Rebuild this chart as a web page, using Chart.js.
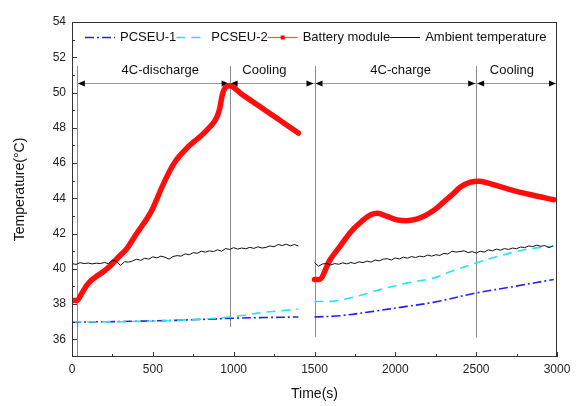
<!DOCTYPE html>
<html>
<head>
<meta charset="utf-8">
<script src="https://cdn.jsdelivr.net/npm/chart.js@4.4.0/dist/chart.umd.min.js"></script>
<style>
html, body { margin: 0; padding: 0; background: #fff; }
</style>
</head>
<body>
<canvas id="chartCanvas" width="577" height="406"></canvas>
<script>
// ---- data ----
const seriesNames = ["PCSEU-1", "PCSEU-2", "Battery module", "Ambient temperature"];

// 4C-discharge + cooling (0 - 1400 s)
const pcseu1TimeA = [0, 200, 400, 600, 800, 1000, 1200, 1400];
const pcseu1TempA = [36.98, 37.0, 37.03, 37.07, 37.13, 37.2, 37.24, 37.27];
const pcseu2TimeA = [0, 300, 600, 800, 980, 1100, 1200, 1300, 1400];
const pcseu2TempA = [37.0, 37.0, 37.07, 37.15, 37.27, 37.42, 37.55, 37.63, 37.72];
const batteryTimeA = [0, 30, 60, 90, 120, 150, 180, 210, 240, 270, 300, 335, 365, 400, 430, 460, 490, 520, 550, 580, 610, 640, 670, 700, 730, 760, 795, 825, 855, 880, 900, 915, 928, 940, 955, 975, 1050, 1150, 1250, 1400];
const batteryTempA = [38.2, 38.2, 38.6, 39.05, 39.35, 39.57, 39.75, 39.95, 40.2, 40.5, 40.78, 41.1, 41.5, 42.0, 42.4, 42.8, 43.25, 43.85, 44.5, 45.1, 45.65, 46.1, 46.45, 46.75, 47.02, 47.26, 47.52, 47.78, 48.07, 48.35, 48.7, 49.15, 49.8, 50.15, 50.33, 50.38, 49.9, 49.28, 48.65, 47.7];
const ambientTempA = [40.30, 40.25, 40.35, 40.30, 40.33, 40.28, 40.32, 40.30, 40.36, 40.30, 40.50, 40.42, 40.20, 40.40, 40.38, 40.45, 40.55, 40.48, 40.60, 40.55, 40.68, 40.62, 40.72, 40.66, 40.55, 40.70, 40.75, 40.72, 40.85, 40.80, 40.92, 40.88, 41.00, 40.95, 41.02, 40.98, 41.08, 41.00, 41.15, 41.10, 41.20, 41.12, 41.18, 41.14, 41.22, 41.16, 41.25, 41.18, 41.22, 41.30, 41.25, 41.38, 41.32, 41.40, 41.30, 41.38, 41.30];

// 4C-charge + cooling (1500 - 2980 s)
const pcseu1TimeB = [1500, 1657, 1864, 2070, 2236, 2500, 2735, 2980];
const pcseu1TempB = [37.27, 37.34, 37.59, 37.87, 38.1, 38.63, 39.0, 39.4];
const pcseu2TimeB = [1500, 1620, 1760, 1905, 2070, 2236, 2343, 2500, 2632, 2797, 2980];
const pcseu2TempB = [38.15, 38.17, 38.44, 38.82, 39.19, 39.48, 39.85, 40.33, 40.7, 41.08, 41.3];
const batteryTimeB = [1500, 1530, 1595, 1660, 1720, 1780, 1845, 1890, 1950, 2010, 2070, 2130, 2190, 2250, 2300, 2345, 2405, 2465, 2520, 2590, 2715, 2840, 2980];
const batteryTempB = [39.4, 39.4, 40.5, 41.3, 42.05, 42.6, 43.05, 43.15, 42.97, 42.78, 42.73, 42.82, 43.05, 43.4, 43.8, 44.15, 44.65, 44.92, 44.97, 44.82, 44.48, 44.2, 43.92];
const ambientTempB = [40.35, 40.15, 40.28, 40.30, 40.22, 40.30, 40.26, 40.34, 40.28, 40.36, 40.30, 40.40, 40.35, 40.44, 40.38, 40.50, 40.45, 40.55, 40.58, 40.50, 40.62, 40.56, 40.66, 40.60, 40.70, 40.64, 40.72, 40.68, 40.78, 40.72, 40.80, 40.76, 40.88, 40.84, 41.00, 40.95, 40.98, 41.02, 40.92, 40.98, 40.90, 41.00, 40.95, 41.08, 41.02, 41.12, 41.06, 41.15, 41.10, 41.18, 41.14, 41.24, 41.20, 41.30, 41.26, 41.34, 41.28, 41.32, 41.20, 41.30];
const ambientStartA = 0, ambientStartB = 1500, ambientStep = 25;

// phases
const phaseBounds = [30, 975, 1500, 2500, 3000];
const phaseLineBottom = [35, 36.7, 36.15, 36.1];
const phaseLabels = ["4C-discharge", "Cooling", "4C-charge", "Cooling"];
const phaseLabelTimes = [546, 1190, 2033, 2721];

const xTicks = [0, 500, 1000, 1500, 2000, 2500, 3000];
const yTicks = [36, 38, 40, 42, 44, 46, 48, 50, 52, 54];

// ---- helpers ----
function pts(times, temps) {
    return times.map((t, i) => ({ x: t, y: temps[i] }));
}
function stepPts(start, temps) {
    return temps.map((v, i) => ({ x: start + i * ambientStep, y: v }));
}
function joined(a, b) {
    return a.concat([{ x: 1450, y: null }], b);
}

const FONT = "'Liberation Sans', Arial, sans-serif";

const styles = [
    { color: "#2323f0", width: 1.6, dash: [9, 3, 2, 3] },
    { color: "#25e3f2", width: 1.6, dash: [9, 6] },
    { color: "#ff0d0d", width: 5.5, dash: [] },
    { color: "#111111", width: 1, dash: [] }
];

const frameTicks = {
    id: "frameTicks",
    afterDraw(chart) {
        const { ctx, chartArea: a, scales: { x, y } } = chart;
        ctx.save();
        ctx.strokeStyle = "#333";
        ctx.lineWidth = 1;
        ctx.strokeRect(a.left + 0.5, a.top + 0.5, a.right - a.left - 1, a.bottom - a.top - 1);
        ctx.beginPath();
        for (let t = 0; t <= 3000; t += 250) {
            const px = Math.round(x.getPixelForValue(t)) + 0.5;
            const len = t % 500 === 0 ? 5 : 3;
            ctx.moveTo(px, a.bottom);
            ctx.lineTo(px, a.bottom - len);
        }
        for (let v = 36; v <= 54; v++) {
            const py = Math.round(y.getPixelForValue(v)) + 0.5;
            const len = v % 2 === 0 ? 5 : 3;
            ctx.moveTo(a.left, py);
            ctx.lineTo(a.left + len, py);
        }
        ctx.stroke();
        ctx.restore();
    }
};

const phases = {
    id: "phases",
    beforeDatasetsDraw(chart) {
        const { ctx, chartArea: a, scales: { x, y } } = chart;
        ctx.save();
        ctx.lineWidth = 1;
        ctx.strokeStyle = "#8a8a8a";
        const top = y.getPixelForValue(51.5);
        for (let i = 0; i < phaseBounds.length - 1; i++) {
            const px = Math.round(x.getPixelForValue(phaseBounds[i])) + 0.5;
            ctx.beginPath();
            ctx.moveTo(px, top);
            ctx.lineTo(px, y.getPixelForValue(phaseLineBottom[i]));
            ctx.stroke();
        }
        const ay = Math.round(y.getPixelForValue(50.55)) + 0.5;
        ctx.strokeStyle = "#9a9a9a";
        ctx.beginPath();
        ctx.moveTo(x.getPixelForValue(phaseBounds[0]), ay);
        ctx.lineTo(a.right, ay);
        ctx.stroke();

        ctx.fillStyle = "#000";
        for (let i = 0; i < phaseBounds.length - 1; i++) {
            const s = x.getPixelForValue(phaseBounds[i]) + 1;
            const e = Math.min(x.getPixelForValue(phaseBounds[i + 1]), a.right) - 1;
            ctx.beginPath();
            ctx.moveTo(s, ay); ctx.lineTo(s + 7, ay - 3); ctx.lineTo(s + 7, ay + 3); ctx.closePath();
            ctx.moveTo(e, ay); ctx.lineTo(e - 7, ay - 3); ctx.lineTo(e - 7, ay + 3); ctx.closePath();
            ctx.fill();
        }
        ctx.font = "13px " + FONT;
        ctx.fillStyle = "#111";
        ctx.textAlign = "center";
        ctx.textBaseline = "middle";
        phaseLabels.forEach((lab, i) => {
            ctx.fillText(lab, x.getPixelForValue(phaseLabelTimes[i]), ay - 13);
        });
        ctx.restore();
    }
};

const insideLegend = {
    id: "insideLegend",
    afterDatasetsDraw(chart) {
        const { ctx, chartArea: a } = chart;
        ctx.save();
        ctx.font = "13px " + FONT;
        ctx.textBaseline = "middle";
        ctx.textAlign = "left";
        const ly = a.top + 15.5;
        let lx = a.left + 13;
        seriesNames.forEach((name, i) => {
            const st = styles[i];
            ctx.strokeStyle = i === 2 ? "#ff5050" : st.color;
            ctx.lineWidth = i === 2 ? 1.2 : st.width;
            ctx.setLineDash(st.dash);
            ctx.beginPath();
            ctx.moveTo(lx, ly);
            ctx.lineTo(lx + 30, ly);
            ctx.stroke();
            ctx.setLineDash([]);
            if (i === 2) {
                ctx.fillStyle = "#ff0000";
                ctx.fillRect(lx + 13, ly - 2, 4, 4);
            }
            ctx.fillStyle = "#111";
            ctx.fillText(name, lx + 35, ly);
            lx += 35 + ctx.measureText(name).width;
        });
        ctx.restore();
    }
};

const dataSets = [
    joined(pts(pcseu1TimeA, pcseu1TempA), pts(pcseu1TimeB, pcseu1TempB)),
    joined(pts(pcseu2TimeA, pcseu2TempA), pts(pcseu2TimeB, pcseu2TempB)),
    joined(pts(batteryTimeA, batteryTempA), pts(batteryTimeB, batteryTempB)),
    joined(stepPts(ambientStartA, ambientTempA), stepPts(ambientStartB, ambientTempB))
];
const drawOrder = [3, 2, 1, 0];

new Chart(document.getElementById("chartCanvas"), {
    type: "line",
    data: {
        datasets: dataSets.map((d, i) => ({
            label: seriesNames[i],
            data: d,
            borderColor: styles[i].color,
            borderWidth: styles[i].width,
            borderDash: styles[i].dash,
            borderCapStyle: i === 2 ? "round" : "butt",
            borderJoinStyle: "round",
            pointRadius: 0,
            cubicInterpolationMode: i === 2 ? "monotone" : "default",
            tension: i === 3 ? 0 : 0.35,
            spanGaps: false,
            order: drawOrder[i]
        }))
    },
    options: {
        responsive: false,
        animation: false,
        events: [],
        layout: { padding: { top: 22, right: 20, bottom: 0, left: 0 } },
        plugins: { legend: { display: false }, tooltip: { enabled: false } },
        scales: {
            x: {
                type: "linear",
                min: 0,
                max: 3000,
                afterFit(scale) { scale.height = 49; },
                afterBuildTicks(scale) { scale.ticks = xTicks.map(v => ({ value: v })); },
                grid: { display: false, drawTicks: false },
                border: { display: false },
                ticks: { padding: 5, color: "#222", font: { family: FONT, size: 12 }, maxRotation: 0, callback: v => String(v) },
                title: { display: true, text: "Time(s)", color: "#111", font: { family: FONT, size: 14 }, padding: { top: 4, bottom: 3 } }
            },
            y: {
                min: 35,
                max: 54,
                afterFit(scale) { scale.width = 72; },
                afterBuildTicks(scale) { scale.ticks = yTicks.map(v => ({ value: v })); },
                grid: { display: false, drawTicks: false },
                border: { display: false },
                ticks: { padding: 6, color: "#222", font: { family: FONT, size: 12 } },
                title: { display: true, text: "Temperature(°C)", color: "#111", font: { family: FONT, size: 14 }, padding: { top: 12, bottom: 4 } }
            }
        }
    },
    plugins: [phases, insideLegend, frameTicks]
});
</script>
</body>
</html>
